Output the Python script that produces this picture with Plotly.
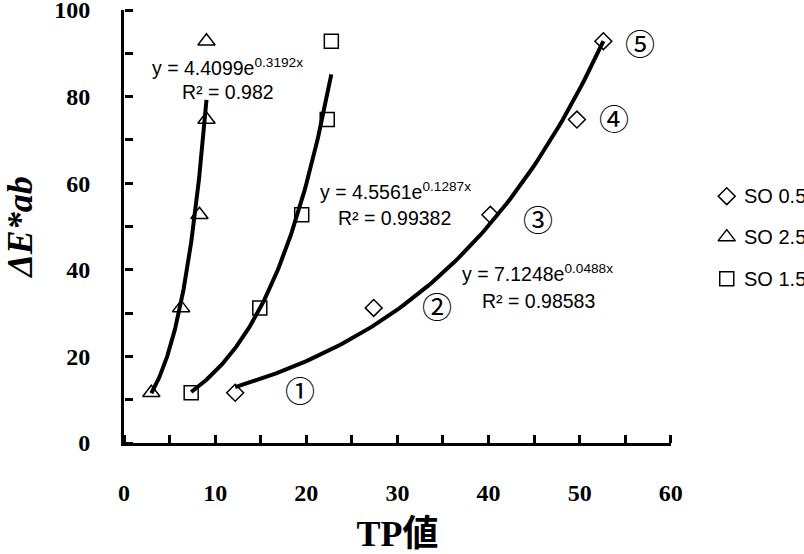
import numpy as np
import plotly.graph_objects as go

# ---- data ----
series_names = ["SO 0.5", "SO 2.5", "SO 1.5"]
x_so05 = [12.2, 27.4, 40.2, 49.7, 52.6]
y_so05 = [11.6, 31.2, 52.7, 74.7, 92.8]
x_so25 = [3.0, 6.27, 8.28, 9.05, 9.05]
y_so25 = [11.6, 31.2, 52.7, 74.7, 92.8]
x_so15 = [7.37, 14.9, 19.5, 22.3, 22.75]
y_so15 = [11.6, 31.2, 52.7, 74.7, 92.8]
# exponential trendline coefficients  y = a * e^(b x)
fit_a = [7.1248, 4.4099, 4.5561]
fit_b = [0.0488, 0.3192, 0.1287]
fit_r2 = ["0.98583", "0.982", "0.99382"]
x_labels = [0, 10, 20, 30, 40, 50, 60]
x_tick_pos = [0, 5, 10, 15, 20, 25, 30, 35, 40, 45, 50, 55, 60]
y_labels = [0, 20, 40, 60, 80, 100]
y_tick_pos = [0, 10, 20, 30, 40, 50, 60, 70, 80, 90, 100]
circle_labels = ["①", "②", "③", "④", "⑤"]

xs = [x_so05, x_so25, x_so15]
ys = [y_so05, y_so25, y_so15]
symbols = ["diamond-open", "triangle-up-open", "square-open"]
sizes = [13, 15, 14]

fig = go.Figure()

# trendlines
for i in range(3):
    xx = np.linspace(min(xs[i]), max(xs[i]), 100)
    yy = fit_a[i] * np.exp(fit_b[i] * xx)
    fig.add_trace(go.Scatter(x=xx, y=yy, mode="lines",
                             line=dict(color="black", width=4),
                             showlegend=False, hoverinfo="skip"))

# data markers
for i in range(3):
    fig.add_trace(go.Scatter(x=xs[i], y=ys[i], mode="markers", name=series_names[i],
                             marker=dict(symbol=symbols[i], size=sizes[i], color="black",
                                         line=dict(color="black", width=1.5)),
                             showlegend=False))

# tick-only overlay axes (outside ticks pointing into the plot)
fig.add_trace(go.Scatter(x=[None], y=[None], xaxis="x3", yaxis="y3", mode="markers",
                         showlegend=False, hoverinfo="skip"))

# manual legend in a side subplot (x2/y2) to the right of the plot
leg_x_sym = 0.420
leg_x_txt = 0.5326
leg_y = [0.570, 0.4755, 0.3794]
for i in range(3):
    fig.add_trace(go.Scatter(x=[leg_x_sym], y=[leg_y[i]], mode="markers", name=series_names[i],
                             xaxis="x2", yaxis="y2",
                             marker=dict(symbol=symbols[i], size=sizes[i], color="black",
                                         line=dict(color="black", width=1.5)),
                             showlegend=False, hoverinfo="skip"))
    fig.add_annotation(x=leg_x_txt, y=leg_y[i], xref="x2", yref="y2",
                       text=series_names[i], showarrow=False, xanchor="left", yanchor="middle",
                       font=dict(family="Liberation Sans", size=20, color="black"))

eq_font = dict(family="Liberation Sans", size=19.5, color="black")
# equation annotation positions (x, y centers) for SO0.5, SO2.5, SO1.5
eq_pos = [(45.39, 39.2), (11.39, 86.8), (29.77, 58.3)]
r2_pos = [(45.5, 32.7), (11.46, 81.0), (29.66, 51.9)]
for i in range(3):
    fig.add_annotation(x=eq_pos[i][0], y=eq_pos[i][1], xref="x", yref="y",
                       text=f"y = {fit_a[i]:.4f}e<sup>{fit_b[i]:.4f}x</sup>",
                       showarrow=False, xanchor="center", yanchor="middle", font=eq_font)
    fig.add_annotation(x=r2_pos[i][0], y=r2_pos[i][1], xref="x", yref="y",
                       text=f"R² = {fit_r2[i]}",
                       showarrow=False, xanchor="center", yanchor="middle", font=eq_font)

circ_pos = [(19.28, 12.54), (34.34, 31.94), (45.48, 51.94), (53.78, 75.2), (56.63, 92.7)]
for lab, (cx, cy) in zip(circle_labels, circ_pos):
    fig.add_annotation(x=cx, y=cy, xref="x", yref="y", text=lab, showarrow=False,
                       xanchor="center", yanchor="middle",
                       font=dict(family="Noto Sans CJK JP", size=30, color="black"))

tickfont = dict(family="Liberation Serif", size=24, color="black", weight="bold")
main_dom = 547.2 / 680.5
fig.update_layout(
    width=804, height=554,
    margin=dict(l=123.5, r=0, t=9.6, b=111.4, autoexpand=False),
    paper_bgcolor="white", plot_bgcolor="white",
    showlegend=False,
    xaxis=dict(domain=[0, main_dom], range=[0, 60], tickmode="array", tickvals=x_labels,
               ticktext=[str(v) for v in x_labels],
               showgrid=False, zeroline=False, showline=True, linecolor="black", linewidth=3,
               ticks="", tickfont=tickfont, ticklabelstandoff=26,
               title=dict(text="TP値", standoff=20,
                          font=dict(family="Liberation Serif, Noto Sans CJK JP", size=36,
                                    color="black", weight="bold"))),
    yaxis=dict(range=[0, 100], tickmode="array", tickvals=y_labels,
               ticktext=[str(v) for v in y_labels],
               showgrid=False, zeroline=False, showline=True, linecolor="black", linewidth=3,
               ticks="", tickfont=tickfont, ticklabelstandoff=26, ticklabeloverflow="allow",
               title=dict(text="<i>ΔE*ab</i>", standoff=20,
                          font=dict(family="Liberation Serif", size=36,
                                    color="black", weight="bold"))),
    xaxis3=dict(overlaying="x", side="top", anchor="free", position=0, range=[0, 60],
                tickmode="array", tickvals=x_tick_pos, showticklabels=False,
                ticks="outside", ticklen=8, tickwidth=2.5, tickcolor="black",
                showgrid=False, zeroline=False, showline=False, fixedrange=True),
    yaxis3=dict(overlaying="y", side="right", anchor="free", position=0, range=[0, 100],
                tickmode="array", tickvals=y_tick_pos, showticklabels=False,
                ticks="outside", ticklen=8, tickwidth=2.5, tickcolor="black",
                showgrid=False, zeroline=False, showline=False, fixedrange=True),
    xaxis2=dict(domain=[main_dom, 1], range=[0, 1], anchor="y2", visible=False,
                fixedrange=True),
    yaxis2=dict(domain=[0, 1], range=[0, 1], anchor="x2", visible=False, fixedrange=True),
)

fig.write_html("out.html")
